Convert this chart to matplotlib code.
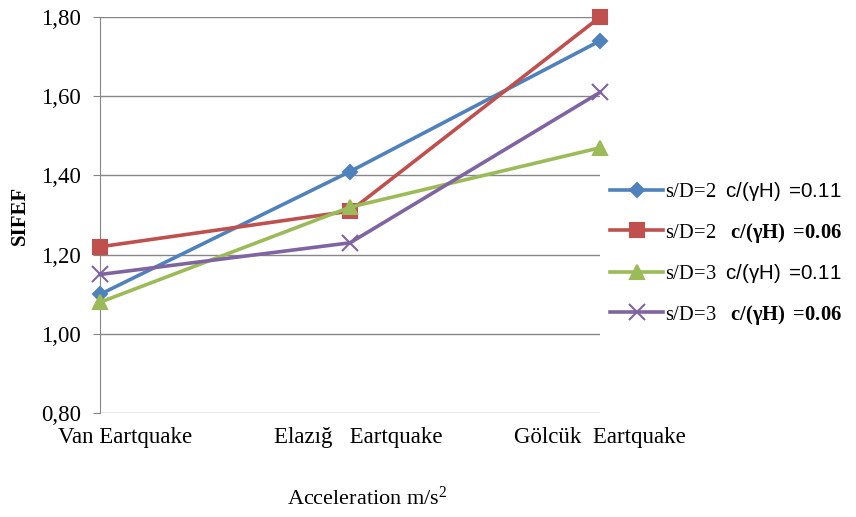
import matplotlib
matplotlib.use("Agg")
import matplotlib.pyplot as plt
from matplotlib.ticker import FuncFormatter
from matplotlib.transforms import ScaledTranslation

plt.rcParams["font.family"] = ["Liberation Serif", "DejaVu Serif"]
plt.rcParams["mathtext.fontset"] = "custom"
plt.rcParams["mathtext.rm"] = "Liberation Serif"
plt.rcParams["mathtext.bf"] = "Liberation Serif:bold"
plt.rcParams["mathtext.it"] = "Liberation Serif:italic"
plt.rcParams["mathtext.sf"] = "Liberation Sans"

categories = ["Van Eartquake", "Elazığ   Eartquake", "Gölcük  Eartquake"]
sd2_c011 = [1.10, 1.41, 1.74]
sd2_c006 = [1.22, 1.31, 1.80]
sd3_c011 = [1.08, 1.32, 1.47]
sd3_c006 = [1.15, 1.23, 1.61]
labels = [
    r"s/D=2  $\mathsf{c/(γH)}\ \mathsf{=}\!\mathsf{0.11}$",
    r"s/D=2   $\mathbf{c/(γH)}\ \mathbf{=}\!\mathbf{0.06}$",
    r"s/D=3  $\mathsf{c/(γH)}\ \mathsf{=}\!\mathsf{0.11}$",
    r"s/D=3   $\mathbf{c/(γH)}\ \mathbf{=}\!\mathbf{0.06}$",
]
y_ticks = [0.80, 1.00, 1.20, 1.40, 1.60, 1.80]

series = [sd2_c011, sd2_c006, sd3_c011, sd3_c006]
colors = ["#4F81BD", "#C0504D", "#9BBB59", "#8064A2"]
markers = ["D", "s", "^", "x"]
msizes = [7, 10, 10, 11]

fig = plt.figure(figsize=(8.56, 5.17), dpi=100)
ax = fig.add_axes([0.117, 0.201, 0.584, 0.766])

x = list(range(len(categories)))
for vals, c, m, ms, lab in zip(series, colors, markers, msizes, labels):
    ax.plot(x, vals, color=c, lw=2.6, marker=m, ms=ms, mew=1.5, label=lab,
            clip_on=False, zorder=3)

ax.set_xlim(0, 2)
ax.set_ylim(0.8, 1.8)
ax.set_yticks(y_ticks)
ax.yaxis.set_major_formatter(FuncFormatter(lambda v, p: f"{v:.2f}".replace(".", ",")))
ax.grid(axis="y", color="#868686", lw=1)
ax.set_axisbelow(True)
ax.set_xticks(x)
ax.set_xticklabels(categories)
ax.tick_params(axis="x", length=0, pad=10, labelsize=16.5)
ax.tick_params(axis="y", length=5, color="#868686", labelsize=16.5, pad=9)
for s in ["top", "right", "bottom"]:
    ax.spines[s].set_visible(False)
ax.spines["left"].set_color("#868686")

shifts = [0.25, 0.08, 0.0]
for lbl, sh in zip(ax.get_xticklabels(), shifts):
    lbl.set_transform(lbl.get_transform() + ScaledTranslation(sh, 0, fig.dpi_scale_trans))

ax.set_ylabel("SIFEF", fontsize=15, fontweight="bold", labelpad=8)
ax.set_xlabel(r"Acceleration m/s$^2$", fontsize=16)
ax.xaxis.set_label_coords(0.534, -0.185)

fig.legend(loc="center left", bbox_to_anchor=(0.703, 0.51), frameon=False,
           fontsize=14.8, handlelength=2.6, labelspacing=0.85, handletextpad=0.1,
           borderaxespad=0)

plt.savefig("out.png")
plt.close()
